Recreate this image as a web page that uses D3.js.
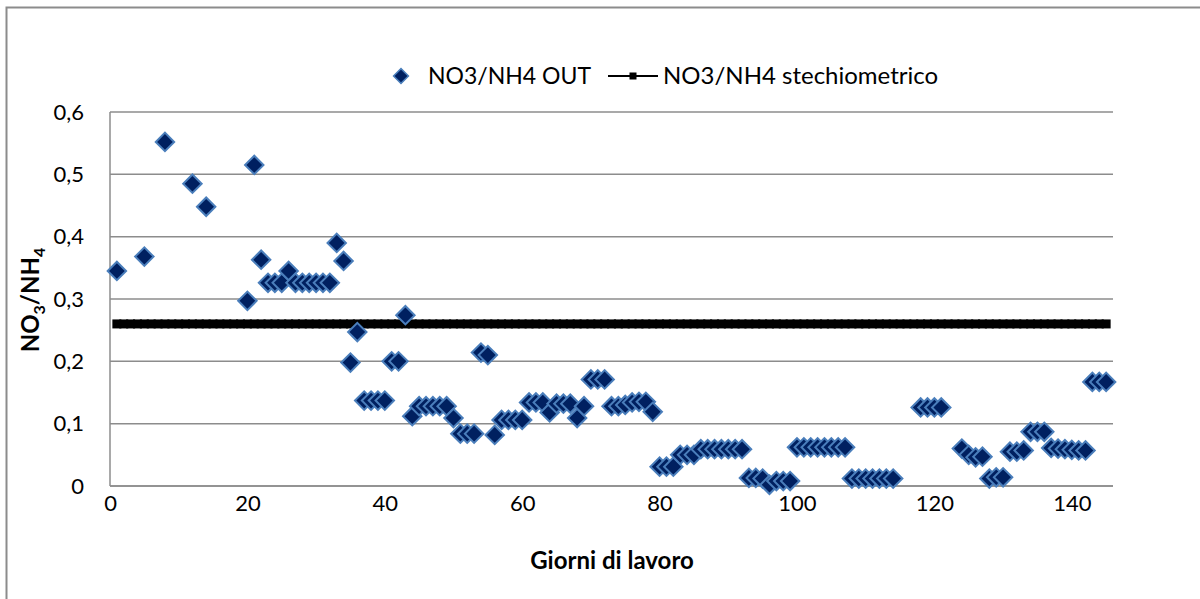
<!DOCTYPE html>
<html>
<head>
<meta charset="utf-8">
<script src="https://cdn.jsdelivr.net/npm/d3@7"></script>
<style>
  body { margin: 0; background: #fff; }
  svg { display: block; font-family: Lato, "Open Sans", sans-serif; }
</style>
</head>
<body>
<div id="chart"></div>
<script>
// Data

// NO3/NH4 OUT (scatter): day and ratio
var outDays = [1, 5, 8, 12, 14, 20, 21, 22, 23, 24, 25, 26, 27, 28, 29, 30, 31, 32,
  33, 34, 35, 36, 37, 38, 39, 40, 41, 42, 43, 44, 45, 46, 47, 48, 49, 50,
  51, 52, 53, 54, 55, 56, 57, 58, 59, 60, 61, 62, 63, 64, 65, 66, 67, 68, 69,
  70, 71, 72, 73, 74, 75, 76, 77, 78, 79, 80, 81, 82, 83, 84, 85,
  86, 87, 88, 89, 90, 91, 92, 93, 94, 95, 96, 97, 98, 99,
  100, 101, 102, 103, 104, 105, 106, 107, 108, 109, 110, 111, 112, 113, 114,
  118, 119, 120, 121, 124, 125, 126, 127, 128, 129, 130, 131, 132, 133,
  134, 135, 136, 137, 138, 139, 140, 141, 142, 143, 144, 145];
var outValues = [0.345, 0.368, 0.552, 0.485, 0.448, 0.297, 0.515, 0.363, 0.326, 0.326, 0.326, 0.345, 0.326, 0.326, 0.326, 0.326, 0.326, 0.326,
  0.390, 0.361, 0.198, 0.247, 0.137, 0.137, 0.137, 0.137, 0.200, 0.200, 0.274, 0.112, 0.128, 0.128, 0.128, 0.128, 0.128, 0.109,
  0.084, 0.084, 0.084, 0.214, 0.210, 0.082, 0.106, 0.106, 0.106, 0.106, 0.134, 0.134, 0.134, 0.118, 0.132, 0.132, 0.132, 0.109, 0.128,
  0.171, 0.171, 0.171, 0.128, 0.128, 0.130, 0.134, 0.135, 0.135, 0.119, 0.031, 0.031, 0.031, 0.050, 0.050, 0.050,
  0.059, 0.059, 0.059, 0.059, 0.059, 0.059, 0.059, 0.013, 0.013, 0.012, 0.002, 0.008, 0.008, 0.008,
  0.062, 0.062, 0.062, 0.062, 0.062, 0.062, 0.062, 0.062, 0.012, 0.012, 0.012, 0.012, 0.012, 0.012, 0.012,
  0.126, 0.126, 0.126, 0.126, 0.060, 0.050, 0.046, 0.047, 0.012, 0.014, 0.014, 0.055, 0.055, 0.057,
  0.087, 0.087, 0.087, 0.061, 0.060, 0.059, 0.058, 0.057, 0.057, 0.167, 0.167, 0.167];

// NO3/NH4 stechiometrico (constant line with square markers)
var stechDays = d3.range(1, 146);
var stechValue = 0.26;

// Axis ticks
var xTicks = [0, 20, 40, 60, 80, 100, 120, 140];
var yTicks = [0, 0.1, 0.2, 0.3, 0.4, 0.5, 0.6];
var yTickLabels = ["0", "0,1", "0,2", "0,3", "0,4", "0,5", "0,6"];

// Chart area
var svgWidth = 1200;
var svgHeight = 599;

var margin = { top: 112, right: 87, bottom: 113, left: 110 };
var chartW = svgWidth - margin.left - margin.right;
var chartH = svgHeight - margin.top - margin.bottom;

var svg = d3.select("#chart")
  .append("svg")
  .attr("width", svgWidth)
  .attr("height", svgHeight);

// outer frame
svg.append("rect")
  .attr("x", 6.5)
  .attr("y", 7.5)
  .attr("width", 1200)
  .attr("height", 600)
  .attr("fill", "none")
  .attr("stroke", "#8c8c8c")
  .attr("stroke-width", 2);

var chartGrp = svg.append("g")
  .attr("transform", `translate(${margin.left}, ${margin.top})`);

var xScale = d3.scaleLinear().domain([0, 146]).range([0, chartW]);
var yScale = d3.scaleLinear().domain([0, 0.6]).range([chartH, 0]);

// gridlines
chartGrp.selectAll(".grid")
  .data(yTicks)
  .enter()
  .append("line")
  .attr("x1", 0)
  .attr("x2", chartW)
  .attr("y1", d => yScale(d))
  .attr("y2", d => yScale(d))
  .attr("stroke", "#8c8c8c")
  .attr("stroke-width", 1.5);

// axes
var bottomAxis = d3.axisBottom(xScale).tickValues(xTicks).tickSize(0).tickPadding(12);
var leftAxis = d3.axisLeft(yScale).tickValues(yTicks).tickSize(0).tickPadding(26)
  .tickFormat((d, i) => yTickLabels[i]);

var xAxisG = chartGrp.append("g")
  .attr("transform", `translate(0, ${chartH})`)
  .call(bottomAxis);
var yAxisG = chartGrp.append("g").call(leftAxis);

[xAxisG, yAxisG].forEach(function(g) {
  g.select(".domain").attr("stroke", "#8c8c8c").attr("stroke-width", 1.5);
  g.selectAll("text")
    .attr("font-family", "Lato, 'Open Sans', sans-serif")
    .attr("font-size", "22px")
    .attr("fill", "#000");
});
yAxisG.select(".domain").attr("d", `M0,0V${chartH}`);
xAxisG.select(".domain").attr("d", `M0,0H${chartW}`);
xAxisG.selectAll("text").attr("dy", "0.6em");

// stechiometric line
var line = d3.line()
  .x(d => xScale(d))
  .y(() => yScale(stechValue));

chartGrp.append("path")
  .datum(stechDays)
  .attr("d", line)
  .attr("fill", "none")
  .attr("stroke", "#000")
  .attr("stroke-width", 2);

chartGrp.selectAll(".sq")
  .data(stechDays)
  .enter()
  .append("rect")
  .attr("x", d => xScale(d) - 4.5)
  .attr("y", yScale(stechValue) - 4.5)
  .attr("width", 9)
  .attr("height", 9)
  .attr("fill", "#000");

// OUT points as diamonds
var diamond = d3.symbol().type(d3.symbolSquare).size(170);
var outData = outDays.map((d, i) => ({ day: d, value: outValues[i] }));

chartGrp.selectAll(".pt")
  .data(outData)
  .enter()
  .append("path")
  .attr("d", diamond)
  .attr("transform", d => `translate(${xScale(d.day)}, ${yScale(d.value)}) rotate(45)`)
  .attr("fill", "#002060")
  .attr("stroke", "#4a7ebb")
  .attr("stroke-width", 2);

// x-axis title
svg.append("text")
  .attr("x", 612)
  .attr("y", 569)
  .attr("text-anchor", "middle")
  .attr("font-size", "24px")
  .attr("font-weight", "bold")
  .text("Giorni di lavoro");

// y-axis title with subscripts
var yTitle = svg.append("text")
  .attr("transform", "translate(39, 300) rotate(-90)")
  .attr("text-anchor", "middle")
  .attr("font-size", "24px")
  .attr("font-weight", "bold");
yTitle.append("tspan").text("NO");
yTitle.append("tspan").attr("font-size", "16px").attr("dy", 6).text("3");
yTitle.append("tspan").attr("dy", -6).text("/NH");
yTitle.append("tspan").attr("font-size", "16px").attr("dy", 6).text("4");

// legend
var legend = svg.append("g").attr("transform", "translate(0, 76)");
legend.append("path")
  .attr("d", d3.symbol().type(d3.symbolSquare).size(110))
  .attr("transform", "translate(401, 0) rotate(45)")
  .attr("fill", "#002060")
  .attr("stroke", "#4a7ebb")
  .attr("stroke-width", 1.5);
legend.append("text")
  .attr("x", 428)
  .attr("y", 8)
  .attr("font-size", "23px")
  .text("NO3/NH4 OUT");
legend.append("line")
  .attr("x1", 608).attr("x2", 658)
  .attr("y1", 0).attr("y2", 0)
  .attr("stroke", "#000")
  .attr("stroke-width", 2);
legend.append("rect")
  .attr("x", 629.5).attr("y", -3.5)
  .attr("width", 7).attr("height", 7)
  .attr("fill", "#000");
legend.append("text")
  .attr("x", 663)
  .attr("y", 8)
  .attr("font-size", "24px")
  .text("NO3/NH4 stechiometrico");
</script>
</body>
</html>
